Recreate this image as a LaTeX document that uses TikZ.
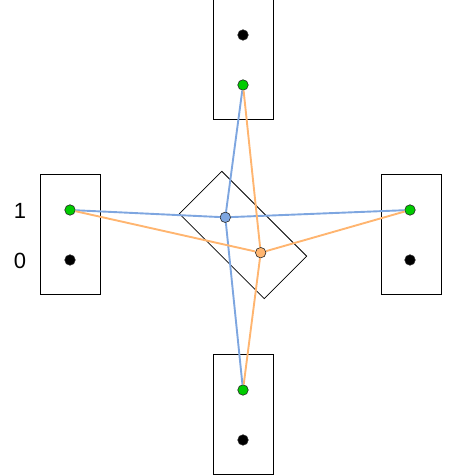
\documentclass[tikz,border=0pt]{standalone}
\usepackage{fontspec}
\setmainfont{Liberation Sans}
\usepackage{tikz}
\usetikzlibrary{positioning,calc}
\definecolor{linkblue}{HTML}{7EA6E0}
\definecolor{linkorange}{HTML}{FFB570}
\definecolor{stategreen}{HTML}{00CC00}

\begin{document}
\begin{tikzpicture}[
  x=1pt, y=1pt,
  qbox/.style={draw, line width=1pt, minimum width=60pt, minimum height=120pt, inner sep=0pt},
  dot/.style={circle, draw=black!85, line width=0.6pt, minimum size=10.5pt, inner sep=0pt},
  offdot/.style={dot, fill=black},
  ondot/.style={dot, fill=stategreen},
  link/.style={line width=1.9pt},
  digit/.style={font=\fontsize{22}{25}\selectfont, inner sep=0pt}
]
\useasboundingbox (0,0) rectangle (471,476);

% outer boxes
\node[qbox] (topbox) at (243,416) {};
\node[qbox] (leftbox) at (70,241) {};
\node[qbox] (rightbox) at (411,241) {};
\node[qbox] (botbox) at (243,61) {};

% rotated middle box
\node[qbox, line width=0.8pt, rotate=45] (midbox) at (243,241) {};

\node[offdot] (topoff) at (243,441) {};
\node[ondot] (topon) at (243,391) {};
\node[ondot] (lefton) at (70,266) {};
\node[offdot] (leftoff) at (70,216) {};
\node[ondot] (righton) at (410,266) {};
\node[offdot] (rightoff) at (410,216) {};
\node[ondot] (boton) at (243,86) {};
\node[offdot] (botoff) at (243,36) {};

\node[digit] (one) at (20,265) {1};
\node[digit] (zero) at (20,215) {0};

\path (midbox.center) ++(135:25) node[dot, fill=linkblue] (bluedot) {};
\path (midbox.center) ++(-45:25) node[dot, fill=linkorange] (orangedot) {};

\draw[link, linkblue] (lefton) -- (bluedot);
\draw[link, linkblue] (bluedot) -- (righton);
\draw[link, linkblue] (bluedot) -- (topon);
\draw[link, linkblue] (bluedot) -- (boton);

\draw[link, linkorange] (lefton) -- (orangedot);
\draw[link, linkorange] (orangedot) -- (righton);
\draw[link, linkorange] (orangedot) -- (topon);
\draw[link, linkorange] (orangedot) -- (boton);

\end{tikzpicture}
\end{document}
